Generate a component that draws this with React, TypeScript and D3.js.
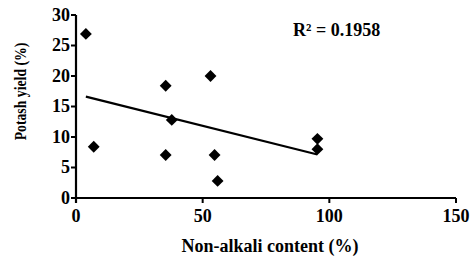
import * as d3 from "d3";
import React from "react";

const nonAlkali = [3.9, 7, 35.4, 37.8, 35.4, 53.1, 54.7, 55.9, 95.3, 95.3];
const potashYield = [26.9, 8.4, 18.4, 12.8, 7.05, 20, 7.05, 2.8, 9.7, 8.0];
const xTicks = [0, 50, 100, 150];
const yTicks = [0, 5, 10, 15, 20, 25, 30];
const rSquaredLabel = "R² = 0.1958";

const width = 472;
const height = 265;
const textStyle: React.CSSProperties = {
  fontFamily: "Liberation Serif, Times New Roman, serif",
  fontWeight: "bold",
  fontSize: 18,
};

const App = () => {
  const x = d3.scaleLinear().domain([0, 150]).range([76, 456]);
  const y = d3.scaleLinear().domain([0, 30]).range([198, 15]);

  const points = nonAlkali.map((v, i) => ({ x: v, y: potashYield[i] }));

  // least squares fit
  const mx = d3.mean(nonAlkali)!;
  const my = d3.mean(potashYield)!;
  let sxy = 0;
  let sxx = 0;
  points.forEach((p) => {
    sxy += (p.x - mx) * (p.y - my);
    sxx += (p.x - mx) * (p.x - mx);
  });
  const slope = sxy / sxx;
  const intercept = my - slope * mx;
  const [x0, x1] = d3.extent(nonAlkali) as [number, number];
  const fit = d3.line<number>()
    .x((d) => x(d))
    .y((d) => y(intercept + slope * d))([x0, x1]);

  const diamond = d3.symbol(d3.symbolSquare, 70)()!;

  return (
    <svg width={width} height={height} style={{ position: "absolute", left: 0, top: 0 }}>
      <rect width={width} height={height} fill="white" />
      {/* axes */}
      <line x1={x(0)} x2={x(0)} y1={y(30)} y2={y(0) + 5} stroke="black" strokeWidth={2.2} />
      <line x1={x(0) - 5} x2={x(150)} y1={y(0)} y2={y(0)} stroke="black" strokeWidth={2.2} />
      {yTicks.map((t) => (
        <g key={"y" + t}>
          <line x1={x(0) - 5} x2={x(0)} y1={y(t)} y2={y(t)} stroke="black" strokeWidth={2} />
          <text x={x(0) - 6} y={y(t)} dy="0.33em" textAnchor="end" style={textStyle}>
            {t}
          </text>
        </g>
      ))}
      {xTicks.map((t) => (
        <g key={"x" + t}>
          <line x1={x(t)} x2={x(t)} y1={y(0)} y2={y(0) + 5} stroke="black" strokeWidth={2} />
          <text x={x(t)} y={y(0) + 24} textAnchor="middle" style={textStyle}>
            {t}
          </text>
        </g>
      ))}
      {/* y title: squeezed along its length like the source */}
      <text
        transform={`translate(26,${(y(0) + y(30)) / 2 - 15}) rotate(-90) scale(0.86,1)`}
        textAnchor="middle"
        style={{ ...textStyle, fontSize: 16 }}
      >
        Potash yield (%)
      </text>
      <text x={270} y={252} textAnchor="middle" style={textStyle}>
        Non-alkali content (%)
      </text>
      <text x={293} y={36} style={textStyle}>
        {rSquaredLabel}
      </text>
      <path d={fit ?? ""} stroke="black" strokeWidth={2.2} fill="none" />
      {points.map((p, i) => (
        <path
          key={i}
          d={diamond}
          transform={`translate(${x(p.x)},${y(p.y)}) rotate(45)`}
          fill="black"
        />
      ))}
    </svg>
  );
};

export default App;
